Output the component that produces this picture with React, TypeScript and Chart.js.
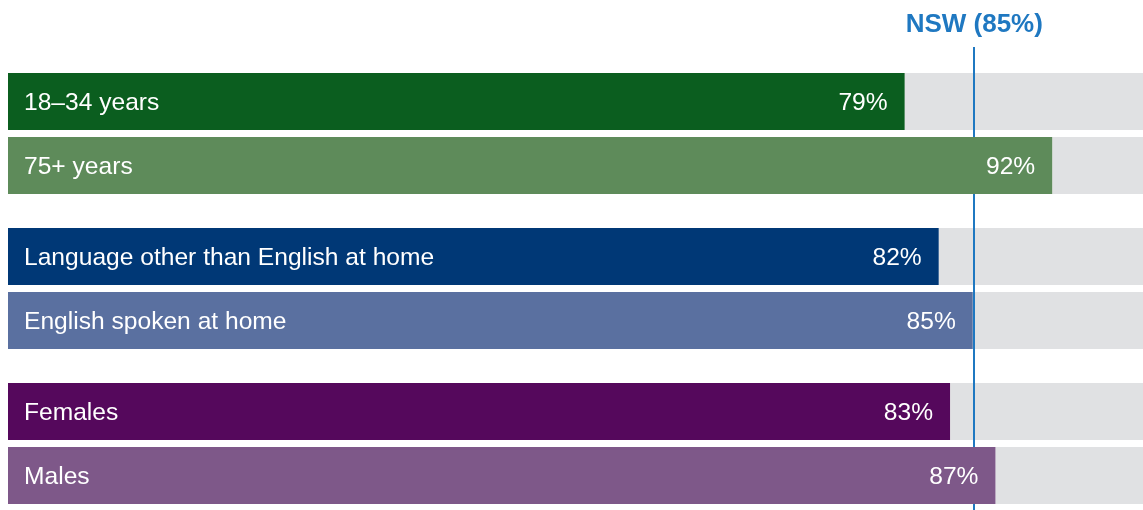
import React, { useEffect, useRef } from "react";
import { Chart, registerables } from "chart.js";

Chart.register(...registerables);

// Data
const GROUPS = ["Age", "Language", "Sex"];
const FIRST_LABELS = ["18–34 years", "Language other than English at home", "Females"];
const FIRST_VALUES = [79, 82, 83];
const SECOND_LABELS = ["75+ years", "English spoken at home", "Males"];
const SECOND_VALUES = [92, 85, 87];
const NSW_VALUE = 85;
const NSW_LABEL = "NSW (85%)";

// Styles
const FIRST_COLORS = ["#0b5e1f", "#003876", "#55085c"];
const SECOND_COLORS = ["#5e8b5a", "#5a70a0", "#7e5889"];
const GREY = "#e0e1e3";
const NSW_COLOR = "#1f78c1";
const FONT = "'Liberation Sans', Arial, Helvetica, sans-serif";

export default function App() {
  const ref = useRef<HTMLCanvasElement | null>(null);

  useEffect(() => {
    if (!ref.current) return;
    let lineDrawn = false;
    const drawLine = (chart: any) => {
      const { ctx, scales } = chart;
      const x = Math.round(scales.x.getPixelForValue(NSW_VALUE)) + 1;
      ctx.save();
      ctx.strokeStyle = NSW_COLOR;
      ctx.lineWidth = 2;
      ctx.beginPath();
      ctx.moveTo(x, 47);
      ctx.lineTo(x, chart.height);
      ctx.stroke();
      ctx.restore();
    };
    const plugin = {
      id: "custom",
      beforeDatasetsDraw() {
        lineDrawn = false;
      },
      beforeDatasetDraw(chart: any, args: any) {
        if (!lineDrawn && (args.index === 0 || args.index === 2)) {
          drawLine(chart);
          lineDrawn = true;
        }
      },
      afterDatasetsDraw(chart: any) {
        const { ctx, chartArea, scales } = chart;
        ctx.save();
        ctx.fillStyle = "#ffffff";
        ctx.font = `24.6px ${FONT}`;
        ctx.textBaseline = "middle";
        const pairs: [number, string[], number[]][] = [
          [0, FIRST_LABELS, FIRST_VALUES],
          [2, SECOND_LABELS, SECOND_VALUES],
        ];
        for (const [di, labels, values] of pairs) {
          const meta = chart.getDatasetMeta(di);
          meta.data.forEach((el: any, i: number) => {
            const y = el.y + 2;
            ctx.textAlign = "left";
            ctx.fillText(labels[i], chartArea.left + 16, y);
            ctx.textAlign = "right";
            ctx.fillText(values[i] + "%", el.x - 17, y);
          });
        }
        // NSW label
        const x = scales.x.getPixelForValue(NSW_VALUE) + 1.5;
        ctx.fillStyle = NSW_COLOR;
        ctx.font = `bold 26px ${FONT}`;
        ctx.textAlign = "center";
        ctx.textBaseline = "alphabetic";
        ctx.fillText(NSW_LABEL, x, 32);
        ctx.restore();
      },
    };

    const chart = new Chart(ref.current, {
      type: "bar",
      data: {
        labels: GROUPS,
        datasets: [
          { label: "first", data: FIRST_VALUES, backgroundColor: FIRST_COLORS, stack: "a", order: 1 },
          { label: "first rest", data: FIRST_VALUES.map((v) => 100 - v), backgroundColor: GREY, stack: "a", order: 2 },
          { label: "second", data: SECOND_VALUES, backgroundColor: SECOND_COLORS, stack: "b", order: 1 },
          { label: "second rest", data: SECOND_VALUES.map((v) => 100 - v), backgroundColor: GREY, stack: "b", order: 2 },
        ],
      },
      options: {
        indexAxis: "y",
        responsive: false,
        animation: false,
        events: [],
        layout: { padding: { left: 8, right: 0, top: 56, bottom: 0 } },
        datasets: { bar: { categoryPercentage: 128 / 155, barPercentage: 57 / 64, borderWidth: 0 } },
        scales: {
          x: { stacked: true, min: 0, max: 100, display: false },
          y: { stacked: true, display: false },
        },
        plugins: { legend: { display: false }, tooltip: { enabled: false } },
      },
      plugins: [plugin],
    } as any);
    return () => chart.destroy();
  }, []);

  return (
    <div style={{ position: "fixed", left: 0, top: 0, width: 1143, height: 510, overflow: "hidden", background: "#fff" }}>
      <canvas ref={ref} width={1143} height={521} style={{ display: "block", width: 1143, height: 521 }} />
    </div>
  );
}
